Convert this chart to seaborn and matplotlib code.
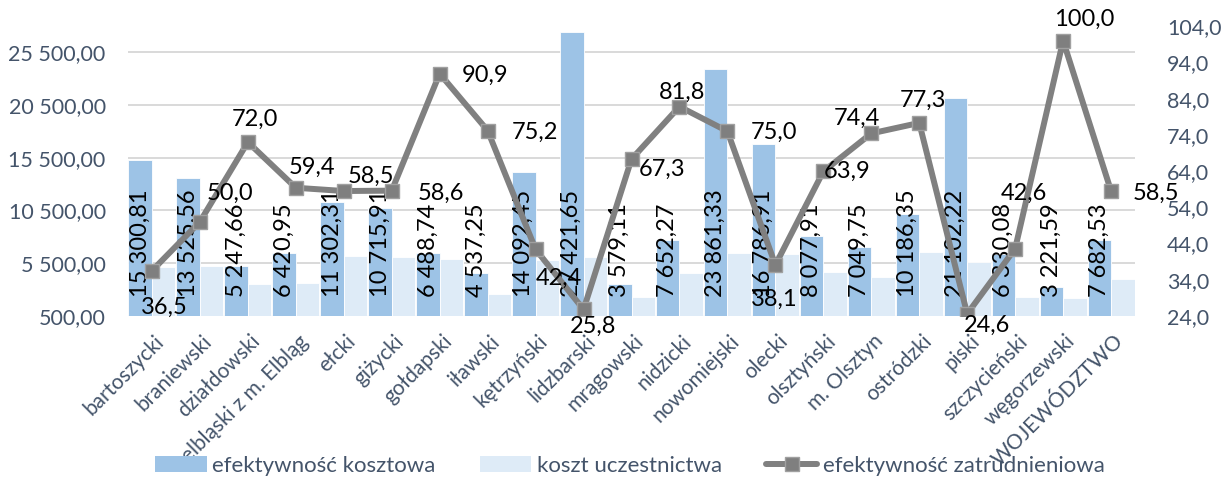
import numpy as np
import pandas as pd
import matplotlib
matplotlib.use("Agg")
import matplotlib.pyplot as plt
import matplotlib.transforms as mtransforms
from matplotlib.patches import Patch
from matplotlib.lines import Line2D
import seaborn as sns

# ---------------- data ----------------
powiaty = ["bartoszycki", "braniewski", "działdowski", "elbląski z m. Elbląg", "ełcki",
           "giżycki", "gołdapski", "iławski", "kętrzyński", "lidzbarski", "mrągowski",
           "nidzicki", "nowomiejski", "olecki", "olsztyński", "m. Olsztyn", "ostródzki",
           "piski", "szczycieński", "węgorzewski", "WOJEWÓDZTWO"]
efektywnosc_kosztowa = [15300.81, 13525.56, 5247.66, 6420.95, 11302.31, 10715.91, 6488.74,
                        4537.25, 14092.45, 27421.65, 3579.11, 7652.27, 23861.33, 16786.91,
                        8077.91, 7049.75, 10186.35, 21102.22, 6330.08, 3221.59, 7682.53]
koszt_uczestnictwa = [5170, 5200, 3530, 3650, 6180, 6120, 5930, 2580, 5800, 6120, 2270,
                      4600, 6490, 6370, 4640, 4220, 6590, 5640, 2330, 2170, 4000]
efektywnosc_zatrudnieniowa = [36.5, 50.0, 72.0, 59.4, 58.5, 58.6, 90.9, 75.2, 42.4, 25.8, 67.3,
                              81.8, 75.0, 38.1, 63.9, 74.4, 77.3, 24.6, 42.6, 100.0, 58.5]
series_names = ["efektywność kosztowa", "koszt uczestnictwa", "efektywność zatrudnieniowa"]

# label offsets (pixels: right, down) for the line data labels
label_offsets = [(12, 37), (30, -28), (7, -23), (16, -20), (27, -15), (49, 3), (45, 2),
                 (47, 2), (23, 29), (10, 17), (31, 10), (3, -14), (47, 1), (-1, 34),
                 (24, 0), (-14, -15), (4, -23), (20, 12), (9, -55), (21, -21), (45, 2)]

# ---------------- style ----------------
sns.set_theme(style="white")
plt.rcParams["font.family"] = ["Lato", "DejaVu Sans"]
TXT = "#44546A"
DARK = "#9DC3E6"
LIGHT = "#DEEBF7"
LINE = "#808080"
GRID = "#D9D9D9"


def pl2(v):
    return "{:,.2f}".format(v).replace(",", " ").replace(".", ",")


def pl1(v):
    return "{:.1f}".format(v).replace(".", ",")


df = pd.DataFrame({
    "powiat": powiaty * 2,
    "wartosc": efektywnosc_kosztowa + koszt_uczestnictwa,
    "seria": [series_names[0]] * len(powiaty) + [series_names[1]] * len(powiaty),
})

fig = plt.figure(figsize=(12.21, 4.94), dpi=100)
ax = fig.add_axes([0.1048, 0.3603, 0.9296 - 0.1048, 0.947 - 0.3603])

sns.barplot(data=df, x="powiat", y="wartosc", hue="seria", order=powiaty,
            hue_order=series_names[:2], palette=[DARK, LIGHT], width=0.98,
            saturation=1, ax=ax, legend=False, edgecolor="white", linewidth=0.6)

ax.set_ylim(500, 27950)
ax.set_xlim(-0.5, len(powiaty) - 0.5)
ax.set_yticks(np.arange(500, 25501, 5000))
ax.set_yticklabels([pl2(v) for v in np.arange(500, 25501, 5000)], fontsize=15.5, color=TXT)
ax.yaxis.grid(True, color=GRID, linewidth=1.4)
ax.set_axisbelow(True)
for s in ax.spines.values():
    s.set_visible(False)
ax.tick_params(axis="both", length=0)
ax.tick_params(axis="y", pad=16)
ax.set_xlabel("")
ax.set_ylabel("")

# x tick labels
ax.set_xticks(np.arange(len(powiaty)))
ax.set_xticklabels(powiaty, rotation=45, ha="right", va="center", rotation_mode="anchor",
                   fontsize=15, color=TXT)
ax.tick_params(axis="x", pad=16)
off = mtransforms.ScaledTranslation(9 / 100, 0, fig.dpi_scale_trans)
for lbl in ax.get_xticklabels():
    lbl.set_transform(lbl.get_transform() + off)

# bar value labels (inside the dark bars)
tr = mtransforms.blended_transform_factory(ax.transData, ax.transAxes)
for i, v in enumerate(efektywnosc_kosztowa):
    ax.text(i - 0.245, 0.066, pl2(v), rotation=90, ha="center", va="bottom",
            fontsize=17, color="black", transform=tr, zorder=5)

# secondary axis with the line
ax2 = ax.twinx()
sns.lineplot(x=np.arange(len(powiaty)), y=efektywnosc_zatrudnieniowa, ax=ax2, color=LINE,
             linewidth=4.3, marker="s", markersize=10, markerfacecolor="#7F7F7F",
             markeredgecolor="#A0A0A0", markeredgewidth=1.0, zorder=6)
ax2.set_ylim(24, 104)
ax2.set_yticks(np.arange(24, 104.1, 10))
ax2.set_yticklabels([pl1(v) for v in np.arange(24, 104.1, 10)], fontsize=15.5, color=TXT)
ax2.tick_params(axis="y", length=0, pad=23)
for s in ax2.spines.values():
    s.set_visible(False)
ax2.set_ylabel("")
ax2.set_xlim(-0.5, len(powiaty) - 0.5)

for i, (v, (dx, dy)) in enumerate(zip(efektywnosc_zatrudnieniowa, label_offsets)):
    ax2.annotate(pl1(v), (i, v), xytext=(dx * 0.72, -dy * 0.72), textcoords="offset points",
                 ha="center", va="center", fontsize=17, color="black", zorder=7)

handles = [Patch(facecolor=DARK, edgecolor="none"),
           Patch(facecolor=LIGHT, edgecolor="none"),
           Line2D([0], [0], color=LINE, linewidth=4.3, marker="s", markersize=10,
                  markerfacecolor="#7F7F7F", markeredgecolor="#A0A0A0")]
leg = fig.legend(handles, series_names, loc="center", bbox_to_anchor=(0.516, 1 - 466 / 494),
                 ncol=3, frameon=False, fontsize=16, handlelength=2.3, handleheight=0.7,
                 handletextpad=0.25, columnspacing=2.0)
for t in leg.get_texts():
    t.set_color(TXT)

fig.savefig("out.png", dpi=100)
